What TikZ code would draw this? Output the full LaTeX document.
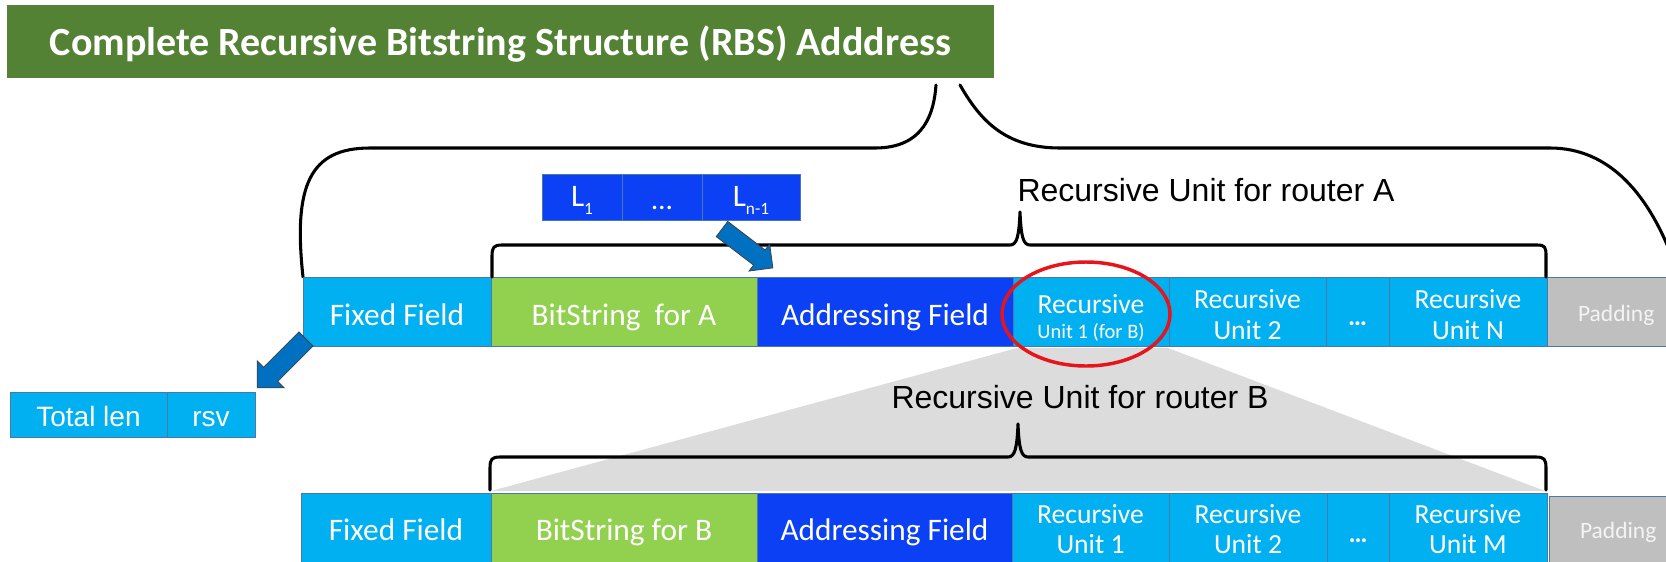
\documentclass[tikz,border=0pt]{standalone}
\usepackage{fontspec}
\setmainfont{Carlito}
\newfontfamily\arialfont{Liberation Sans}
\usetikzlibrary{calc}
\definecolor{fieldcyan}{HTML}{00B0F0}
\definecolor{fieldgreen}{HTML}{92D050}
\definecolor{fieldblue}{HTML}{0B40F5}
\definecolor{padgray}{HTML}{BFBFBF}
\definecolor{padtext}{HTML}{F4F4F4}
\definecolor{titlegreen}{HTML}{548235}
\definecolor{arrowblue}{HTML}{0070C0}
\definecolor{cellborder}{HTML}{4A78A8}
\definecolor{zoomgray}{HTML}{DCDCDC}
\definecolor{ringred}{HTML}{E8141B}
\begin{document}
\begin{tikzpicture}[x=0.75pt,y=-0.75pt,
  cw/.style={minimum width=#1*0.75pt},
  ch/.style={minimum height=#1*0.75pt},
  cell/.style={draw=cellborder,line width=0.75pt,inner sep=0pt,outer sep=0pt,
    anchor=north west,text=white,align=center,font=\fontsize{23.5}{28}\selectfont},
  rowA/.style={text height=26.6pt,text depth=5pt},
  rowB/.style={text height=21.6pt,text depth=5pt},
  unitfont/.style={font=\fontsize{20.7}{22.7}\selectfont},
  padcell/.style={cell,fill=padgray,text=padtext,font=\fontsize{17.6}{21}\selectfont},
  dotmark/.style={text=white,inner sep=0pt,font=\bfseries\fontsize{20}{24}\selectfont},
  arialcell/.style={cell,text height=18.5pt,text depth=0pt,font=\arialfont\fontsize{21}{25}\selectfont},
  caption/.style={inner sep=0pt,font=\arialfont\fontsize{24}{28}\selectfont},
  brace/.style={draw=black,line width=2.3pt,line cap=round,line join=round},
  blockarrow/.style={fill=arrowblue,draw=black!75,line width=0.6pt,line join=miter}
]
\useasboundingbox (0,0) rectangle (1666,561);
\clip (0,0) rectangle (1666,561);

% title banner
\node[fill=titlegreen,text=white,inner sep=0pt,cw=987,ch=73,text height=24pt,text depth=2.7pt,
  font=\bfseries\fontsize{30}{36}\selectfont] (title) at (500.5,41.5)
  {Complete Recursive Bitstring Structure (RBS) Adddress};

% outer brace spanning the whole address
\draw[brace] (303,277) .. controls (293,185) and (310,148) .. (370,148)
  -- (875,148) .. controls (925,148) and (934,112) .. (936,85);
\draw[brace] (960,85) .. controls (980,120) and (1005,148) .. (1060,148)
  -- (1550,148) .. controls (1610,148) and (1650,195) .. (1675,265);

% length list of the addressing field
\node[cell,fill=fieldblue,cw=80,ch=46,text height=15pt,text depth=1.2pt] (l1) at (542,174)
  {L\raisebox{-6pt}{\fontsize{13}{13}\selectfont 1}};
\node[cell,fill=fieldblue,cw=80,ch=46] (lmid) at (622,174) {};
\node[text=white,inner sep=0pt,font=\fontsize{22}{26}\selectfont] at ($(lmid.center)+(0,11)$) {\dots};
\node[cell,fill=fieldblue,cw=98,ch=46,text height=15pt,text depth=1.2pt] (ln) at (702,174)
  {L\raisebox{-6pt}{\fontsize{13}{13}\selectfont n-1}};

% zoom wedge from unit 1 of router A to the unit of router B
\fill[zoomgray] (1017,348) -- (1168,348) -- (1545,491) -- (491,491) -- cycle;

% row A
\node[cell,rowA,fill=fieldcyan,cw=188,ch=69] (ffA) at (303,277) {Fixed Field};
\node[cell,rowA,fill=fieldgreen,cw=266,ch=69] (bsA) at (491,277) {BitString\ \ for A};
\node[cell,rowA,fill=fieldblue,cw=256,ch=69] (afA) at (757,277) {Addressing Field};
\node[cell,fill=fieldcyan,cw=156,ch=69,unitfont] (u1A) at (1013,277)
  {\rule{0pt}{23.6pt}Recursive\\[-3.6pt]{\fontsize{15.4}{18}\selectfont Unit 1 (for B)}};
\node[cell,fill=fieldcyan,cw=157,ch=69,unitfont] (u2A) at (1169,277)
  {\rule{0pt}{18.8pt}Recursive\\Unit 2};
\node[cell,fill=fieldcyan,cw=63,ch=69] (dotsA) at (1326,277) {};
\node[dotmark] at ($(dotsA.center)+(0,12)$) {\dots};
\node[cell,fill=fieldcyan,cw=158,ch=69,unitfont] (unA) at (1389,277)
  {\rule{0pt}{18.8pt}Recursive\\Unit N};
\node[padcell,cw=125,ch=69,text height=18.7pt,text depth=3.5pt] (padA) at (1547,277)
  {\hspace*{10pt}Padding};

% fixed field breakdown
\node[arialcell,fill=fieldcyan,cw=157,ch=45] (tlen) at (10,392) {Total len};
\node[arialcell,fill=fieldcyan,cw=88,ch=45] (rsv) at (167,392) {rsv};

% row B
\node[cell,rowB,fill=fieldcyan,cw=190,ch=72] (ffB) at (301,493) {Fixed Field};
\node[cell,rowB,fill=fieldgreen,cw=266,ch=72] (bsB) at (491,493) {BitString for B};
\node[cell,rowB,fill=fieldblue,cw=255,ch=72] (afB) at (757,493) {Addressing Field};
\node[cell,fill=fieldcyan,cw=157,ch=72,unitfont] (u1B) at (1012,493) {Recursive\\Unit 1};
\node[cell,fill=fieldcyan,cw=158,ch=72,unitfont] (u2B) at (1169,493) {Recursive\\Unit 2};
\node[cell,fill=fieldcyan,cw=62,ch=72] (dotsB) at (1327,493) {};
\node[dotmark] at ($(dotsB.center)+(0,12)$) {\dots};
\node[cell,fill=fieldcyan,cw=158,ch=72,unitfont] (umB) at (1389,493) {Recursive\\Unit M};
\node[padcell,cw=125,ch=72,text height=13.9pt,text depth=3.5pt] (padB) at (1549,496)
  {\hspace*{10pt}Padding};

% braces over the recursive units
\draw[brace] (492,277) -- (492,256) .. controls (492,247) and (494,245) .. (502,245)
  -- (1010,245) .. controls (1017,245) and (1019,236) .. (1020,212)
  .. controls (1021,236) and (1023,245) .. (1030,245)
  -- (1537,245) .. controls (1545,245) and (1546,247) .. (1546,256) -- (1546,277);
\draw[brace] (490,490) -- (490,468) .. controls (490,459) and (492,457) .. (500,457)
  -- (1008,457) .. controls (1015,457) and (1017,448) .. (1018,424)
  .. controls (1019,448) and (1021,457) .. (1028,457)
  -- (1536,457) .. controls (1544,457) and (1546,459) .. (1546,468) -- (1546,490);

\node[caption] (capA) at (1206,190) {Recursive Unit for router A};
\node[caption] (capB) at (1080,397) {Recursive Unit for router B};

% highlight of the unit for router B
\draw[ringred,line width=2.6pt] (1086,314) ellipse [x radius=84,y radius=52];

% block arrows
\coordinate (arrA) at (722,229);
\begin{scope}[shift={(arrA)},rotate=-37.4]
  \draw[blockarrow] (0,-9.5) -- (47,-9.5) -- (47,-17) -- (64,0) -- (47,17) -- (47,9.5) -- (0,9.5) -- cycle;
\end{scope}
\coordinate (arrF) at (306,339);
\begin{scope}[shift={(arrF)},rotate=-135]
  \draw[blockarrow] (0,-10) -- (50,-10) -- (50,-19) -- (69,0) -- (50,19) -- (50,10) -- (0,10) -- cycle;
\end{scope}
\end{tikzpicture}
\end{document}
